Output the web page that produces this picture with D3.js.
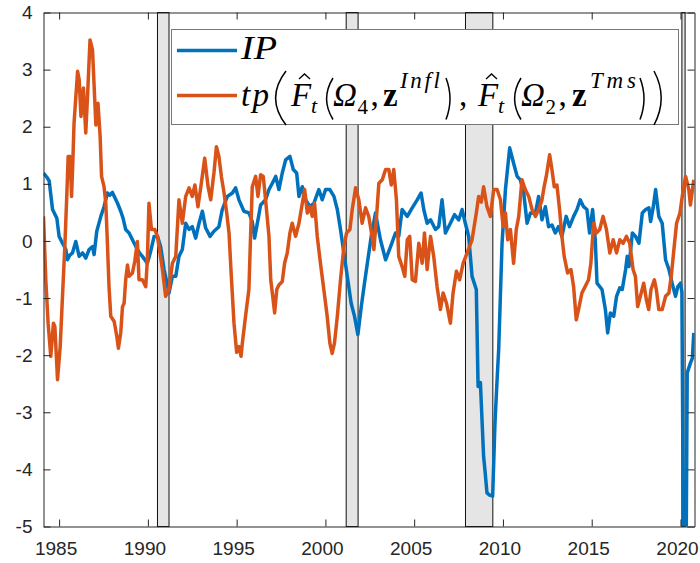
<!DOCTYPE html>
<html>
<head>
<meta charset="utf-8">
<script src="https://cdn.jsdelivr.net/npm/d3@7"></script>
<style>
  body { margin: 0; background: #fff; }
  svg { display: block; }
</style>
</head>
<body>
<svg width="700" height="563"></svg>
<script>
// IP series, [decimal year, value]
const ipSeries = [
  [1984.12, 1.19], [1984.30, 1.12], [1984.44, 1.05], [1984.63, 0.55], [1984.87, 0.40],
  [1985.00, 0.08], [1985.19, -0.04], [1985.38, -0.15], [1985.47, -0.33], [1985.60, -0.25],
  [1985.75, -0.21], [1985.94, -0.01], [1986.13, -0.27], [1986.32, -0.21], [1986.50, -0.30],
  [1986.69, -0.15], [1986.88, -0.10], [1986.97, -0.24], [1987.12, 0.17], [1987.35, 0.43],
  [1987.53, 0.60], [1987.72, 0.84], [1987.85, 0.80], [1988.00, 0.85], [1988.15, 0.75],
  [1988.29, 0.66], [1988.47, 0.52], [1988.60, 0.40], [1988.75, 0.20], [1988.94, 0.14],
  [1989.13, 0.02], [1989.41, -0.15], [1989.55, -0.22], [1989.69, -0.27], [1989.97, -0.39],
  [1990.16, -0.18], [1990.35, 0.08], [1990.54, 0.08], [1990.72, -0.10], [1990.91, -0.50],
  [1991.05, -0.70], [1991.19, -0.91], [1991.38, -0.62], [1991.57, -0.62], [1991.75, -0.27],
  [1991.94, -0.15], [1992.13, 0.31], [1992.32, 0.20], [1992.50, 0.25], [1992.69, 0.05],
  [1992.88, 0.31], [1993.07, 0.52], [1993.25, 0.23], [1993.50, 0.08], [1993.72, 0.17],
  [1994.00, 0.25], [1994.19, 0.55], [1994.48, 0.78], [1994.76, 0.84], [1994.94, 0.93],
  [1995.13, 0.72], [1995.41, 0.52], [1995.69, 0.49], [1995.88, 0.34], [1996.01, 0.05],
  [1996.20, 0.37], [1996.35, 0.63], [1996.63, 0.72], [1996.82, 0.90], [1997.01, 1.01],
  [1997.20, 1.13], [1997.38, 0.90], [1997.57, 1.19], [1997.76, 1.42], [1998.00, 1.48],
  [1998.19, 1.25], [1998.38, 1.19], [1998.51, 0.78], [1998.70, 0.95], [1998.89, 0.72],
  [1999.13, 0.60], [1999.35, 0.66], [1999.63, 0.90], [1999.82, 0.72], [2000.01, 0.90],
  [2000.25, 0.90], [2000.48, 0.78], [2000.67, 0.55], [2000.85, 0.20], [2001.04, -0.21],
  [2001.26, -0.68], [2001.45, -1.09], [2001.64, -1.32], [2001.83, -1.64], [2002.02, -1.15],
  [2002.20, -0.74], [2002.39, -0.33], [2002.58, 0.08], [2002.82, 0.49], [2003.10, 0.02],
  [2003.39, -0.33], [2003.67, -0.10], [2003.95, 0.14], [2004.13, 0.08], [2004.32, 0.55],
  [2004.61, 0.43], [2004.89, 0.58], [2005.17, 0.72], [2005.39, 0.84], [2005.54, 0.55],
  [2005.73, 0.31], [2005.92, 0.37], [2006.20, 0.20], [2006.38, 0.25], [2006.57, 0.72],
  [2006.76, 0.14], [2007.04, 0.31], [2007.27, 0.46], [2007.51, 0.37], [2007.70, 0.55],
  [2007.88, 0.31], [2008.07, 0.08], [2008.26, -0.62], [2008.50, -0.85], [2008.60, -2.55],
  [2008.73, -2.48], [2008.91, -3.77], [2009.00, -4.06], [2009.10, -4.41], [2009.25, -4.45],
  [2009.42, -4.47], [2009.55, -3.20], [2009.67, -2.43], [2009.76, -1.90], [2009.95, -0.04],
  [2010.14, 0.90], [2010.38, 1.63], [2010.60, 1.36], [2010.80, 1.13], [2010.98, 1.07],
  [2011.17, 0.84], [2011.36, 0.31], [2011.55, 0.49], [2011.83, 0.49], [2012.01, 0.78],
  [2012.20, 0.37], [2012.39, 0.60], [2012.57, 0.25], [2012.76, 0.28], [2012.95, 0.14],
  [2013.13, 0.25], [2013.32, 0.08], [2013.56, 0.43], [2013.75, 0.25], [2013.98, 0.43],
  [2014.17, 0.55], [2014.35, 0.72], [2014.54, 0.60], [2014.73, 0.55], [2014.88, 0.14],
  [2015.05, 0.55], [2015.20, 0.02], [2015.30, -0.74], [2015.58, -0.85], [2015.77, -1.20],
  [2015.90, -1.61], [2016.05, -1.26], [2016.24, -1.32], [2016.40, -0.97], [2016.58, -0.82],
  [2016.72, -0.85], [2016.91, -0.50], [2017.00, -0.27], [2017.10, -0.45], [2017.29, 0.14],
  [2017.47, 0.08], [2017.66, -0.04], [2017.85, 0.49], [2018.04, 0.55], [2018.22, 0.58],
  [2018.32, 0.34], [2018.47, 0.60], [2018.60, 0.90], [2018.78, 0.43], [2018.97, 0.31],
  [2019.16, -0.33], [2019.35, -0.50], [2019.53, -0.74], [2019.72, -0.97], [2019.85, -0.80],
  [2020.00, -0.74], [2020.08, -0.90], [2020.17, -5.50], [2020.25, -9.00], [2020.38, -2.31],
  [2020.56, -2.14], [2020.67, -2.05], [2020.75, -1.61]
];

// term premium series, [decimal year, value]
const tpSeries = [
  [1984.12, 0.43], [1984.25, -0.68], [1984.38, -1.44], [1984.53, -2.02], [1984.68, -1.44],
  [1984.76, -1.50], [1984.91, -2.43], [1985.06, -1.85], [1985.19, -0.97], [1985.32, -0.10],
  [1985.43, 0.78], [1985.51, 1.48], [1985.62, 1.48], [1985.70, 0.78], [1985.77, 1.36],
  [1985.84, 2.06], [1986.04, 2.97], [1986.13, 2.82], [1986.23, 2.18], [1986.37, 2.68],
  [1986.50, 1.89], [1986.60, 2.53], [1986.74, 3.52], [1986.88, 3.35], [1987.07, 2.03],
  [1987.19, 2.41], [1987.31, 1.83], [1987.39, 1.13], [1987.53, 0.95], [1987.63, 0.66],
  [1987.72, -0.04], [1987.81, -0.80], [1987.91, -1.32], [1988.10, -1.41], [1988.25, -1.67],
  [1988.34, -1.88], [1988.47, -1.61], [1988.57, -1.15], [1988.66, -1.09], [1988.75, -0.68],
  [1988.85, -0.42], [1988.94, -0.62], [1989.13, -0.56], [1989.26, -0.36], [1989.41, -0.01],
  [1989.50, -0.68], [1989.69, -0.68], [1989.88, -0.80], [1989.97, -0.33], [1990.06, 0.66],
  [1990.20, 0.20], [1990.39, 0.20], [1990.54, 0.08], [1990.82, -0.50], [1991.00, -0.97],
  [1991.19, -0.85], [1991.38, -0.39], [1991.57, -0.27], [1991.75, 0.72], [1991.94, 0.31],
  [1992.13, 0.78], [1992.32, 0.93], [1992.50, 0.78], [1992.65, 0.98], [1992.82, 0.60],
  [1993.01, 1.01], [1993.20, 1.45], [1993.39, 0.95], [1993.54, 0.72], [1993.72, 1.19],
  [1993.86, 1.65], [1994.00, 1.48], [1994.14, 1.13], [1994.29, 0.84], [1994.44, 0.49],
  [1994.57, 0.14], [1994.70, -0.62], [1994.85, -1.44], [1995.00, -1.95], [1995.13, -1.85],
  [1995.25, -2.02], [1995.32, -1.79], [1995.50, -1.32], [1995.69, -0.85], [1995.79, 0.14],
  [1995.88, 0.95], [1996.07, 1.13], [1996.20, 0.78], [1996.35, 1.16], [1996.50, 1.13],
  [1996.63, 0.72], [1996.82, 0.08], [1996.92, -0.68], [1997.01, -0.91], [1997.14, -1.26],
  [1997.26, -0.85], [1997.38, -0.77], [1997.57, -0.71], [1997.70, -0.39], [1997.85, -0.21],
  [1998.00, 0.14], [1998.13, 0.31], [1998.32, 0.08], [1998.51, 0.31], [1998.70, 0.66],
  [1998.83, 0.90], [1998.98, 0.49], [1999.13, 0.60], [1999.26, 0.43], [1999.39, 0.66],
  [1999.54, 0.08], [1999.72, -0.39], [1999.91, -0.85], [2000.10, -1.32], [2000.25, -1.79],
  [2000.38, -1.97], [2000.51, -1.79], [2000.67, -1.32], [2000.85, -0.68], [2001.04, -0.10],
  [2001.19, 0.14], [2001.38, 0.20], [2001.51, 0.55], [2001.70, 0.93], [2001.88, 0.72],
  [2002.07, 0.31], [2002.26, 0.58], [2002.44, 0.43], [2002.63, 0.08], [2002.73, -0.15],
  [2002.88, 0.43], [2003.01, 1.01], [2003.20, 1.07], [2003.39, 1.25], [2003.57, 1.25],
  [2003.71, 0.98], [2003.85, 1.25], [2004.00, 0.72], [2004.13, -0.27], [2004.32, -0.45],
  [2004.47, -0.62], [2004.61, 0.02], [2004.75, 0.08], [2004.89, -0.68], [2005.07, -0.71],
  [2005.26, -0.04], [2005.45, -0.39], [2005.58, 0.14], [2005.73, -0.50], [2005.92, 0.08],
  [2006.10, -0.27], [2006.29, -0.80], [2006.48, -1.20], [2006.63, -0.91], [2006.82, -1.09],
  [2007.04, -1.44], [2007.19, -0.91], [2007.38, -0.53], [2007.56, -0.68], [2007.76, -0.39],
  [2007.98, -0.21], [2008.26, 0.02], [2008.50, 0.49], [2008.63, 0.78], [2008.78, 0.68],
  [2008.91, 0.95], [2009.10, 0.60], [2009.29, 0.43], [2009.48, 0.90], [2009.67, 0.90],
  [2009.86, 0.72], [2010.01, 0.25], [2010.14, 0.49], [2010.27, 0.02], [2010.42, 0.20],
  [2010.60, -0.39], [2010.75, 0.20], [2010.89, 0.43], [2011.07, 1.07], [2011.26, 0.90],
  [2011.45, 0.78], [2011.64, 0.55], [2011.83, 0.43], [2012.01, 0.55], [2012.20, 0.72],
  [2012.32, 0.95], [2012.44, 1.13], [2012.63, 1.51], [2012.76, 1.25], [2012.89, 0.95],
  [2013.04, 0.98], [2013.19, 0.55], [2013.32, 0.08], [2013.45, -0.27], [2013.64, -0.56],
  [2013.83, -0.50], [2013.98, -0.80], [2014.13, -1.38], [2014.26, -1.20], [2014.45, -0.91],
  [2014.63, -0.80], [2014.82, -0.68], [2014.95, -0.40], [2015.11, 0.31], [2015.26, 0.14],
  [2015.45, 0.20], [2015.64, 0.43], [2015.83, 0.20], [2016.02, -0.21], [2016.21, 0.02],
  [2016.40, -0.21], [2016.58, 0.02], [2016.77, -0.04], [2016.96, 0.08], [2017.14, -0.04],
  [2017.33, -0.50], [2017.46, -0.62], [2017.59, -1.15], [2017.74, -0.97], [2017.93, -0.74],
  [2018.08, -1.03], [2018.21, -1.20], [2018.34, -0.85], [2018.53, -0.68], [2018.64, -0.85],
  [2018.78, -1.20], [2018.97, -1.20], [2019.16, -0.97], [2019.35, -0.91], [2019.48, -0.62],
  [2019.63, -0.15], [2019.78, 0.31], [2019.97, 0.49], [2020.10, 0.78], [2020.29, 1.13],
  [2020.47, 0.90], [2020.56, 0.63], [2020.75, 1.07]
];

// NBER recessions [start, end]
const recessions = [[1990.54, 1991.19], [2001.17, 2001.84], [2007.89, 2009.43], [2020.08, 2020.26]];

const xTicks = [1985, 1990, 1995, 2000, 2005, 2010, 2015, 2020];
const yTicks = [-5, -4, -3, -2, -1, 0, 1, 2, 3, 4];

const svg = d3.select("svg");

const x = d3.scaleLinear().domain([1984.12, 2020.79]).range([43.5, 694.5]);
const y = d3.scaleLinear().domain([-5, 4]).range([526.5, 12.5]);

const axisColor = "#262626";
const blue = "#0072BD";
const orange = "#D95319";

svg.append("defs").append("clipPath").attr("id", "plot")
  .append("rect")
  .attr("x", x.range()[0]).attr("y", y.range()[1])
  .attr("width", x.range()[1] - x.range()[0])
  .attr("height", y.range()[0] - y.range()[1]);

// recession shading
svg.append("g").selectAll("rect")
  .data(recessions)
  .join("rect")
  .attr("x", d => x(d[0]))
  .attr("y", y(4))
  .attr("width", d => x(d[1]) - x(d[0]))
  .attr("height", y(-5) - y(4))
  .attr("fill", "#e5e5e5")
  .attr("stroke", "#111")
  .attr("stroke-width", 1);

// series
const line = d3.line().x(d => x(d[0])).y(d => y(d[1]));
const lines = svg.append("g").attr("clip-path", "url(#plot)");
lines.append("path").datum(ipSeries)
  .attr("d", line).attr("fill", "none")
  .attr("stroke", blue).attr("stroke-width", 3.5).attr("stroke-linejoin", "round");
lines.append("path").datum(tpSeries)
  .attr("d", line).attr("fill", "none")
  .attr("stroke", orange).attr("stroke-width", 3.5).attr("stroke-linejoin", "round");

// axes (MATLAB box, ticks inward)
function styleAxis(g) {
  g.selectAll(".domain").attr("stroke", axisColor);
  g.selectAll(".tick line").attr("stroke", axisColor);
  g.selectAll(".tick text")
    .attr("fill", axisColor)
    .style("font-family", "'Liberation Sans', Arial, sans-serif")
    .style("font-size", "19px");
}
const fmt = d => String(d);

svg.append("g").attr("transform", `translate(0,${y(-5)})`)
  .call(d3.axisBottom(x).tickValues(xTicks).tickFormat(fmt).tickSizeInner(-7).tickSizeOuter(0).tickPadding(15))
  .call(styleAxis)
  .call(g => g.selectAll(".tick text").attr("dx", -3.5));
svg.append("g").attr("transform", `translate(0,${y(4)})`)
  .call(d3.axisTop(x).tickValues(xTicks).tickFormat("").tickSizeInner(-7).tickSizeOuter(0))
  .call(styleAxis);
svg.append("g").attr("transform", `translate(${x.range()[0]},0)`)
  .call(d3.axisLeft(y).tickValues(yTicks).tickFormat(fmt).tickSizeInner(-7).tickSizeOuter(0).tickPadding(11))
  .call(styleAxis);
svg.append("g").attr("transform", `translate(${x.range()[1]},0)`)
  .call(d3.axisRight(y).tickValues(yTicks).tickFormat("").tickSizeInner(-7).tickSizeOuter(0))
  .call(styleAxis);

// legend
const lg = svg.append("g");
lg.append("rect")
  .attr("x", 171.5).attr("y", 29.5).attr("width", 507).attr("height", 95)
  .attr("fill", "#fff").attr("stroke", "#777").attr("stroke-width", 1);
lg.append("line").attr("x1", 177).attr("x2", 237).attr("y1", 50.5).attr("y2", 50.5)
  .attr("stroke", blue).attr("stroke-width", 3.5);
lg.append("line").attr("x1", 177).attr("x2", 237).attr("y1", 95.5).attr("y2", 95.5)
  .attr("stroke", orange).attr("stroke-width", 3.5);

const serif = "'Liberation Serif', 'Times New Roman', serif";
function tex(str, px, py, size, opts = {}) {
  const t = lg.append("text")
    .attr("x", px).attr("y", py)
    .style("font-family", serif)
    .style("font-size", size + "px")
    .style("font-style", opts.italic ? "italic" : "normal")
    .style("font-weight", opts.bold ? "bold" : "normal")
    .attr("fill", "#000")
    .text(str);
  if (opts.len) t.attr("textLength", opts.len).attr("lengthAdjust", opts.adjust || "spacing");
  return t;
}
function paren(px, top, bottom, open, w) {
  const mid = (top + bottom) / 2;
  const edge = open ? px + w : px;
  const bulge = open ? px - w * 0.6 : px + w * 1.6;
  lg.append("path")
    .attr("d", `M${edge},${top} Q${bulge},${mid} ${edge},${bottom}`)
    .attr("fill", "none").attr("stroke", "#000").attr("stroke-width", 1.5);
}
function hat(px, py) {
  lg.append("path")
    .attr("d", `M${px},${py + 5} L${px + 5.5},${py} L${px + 11},${py + 5}`)
    .attr("fill", "none").attr("stroke", "#000").attr("stroke-width", 1.3);
}

tex("IP", 241, 59, 33, { italic: true, len: 36, adjust: "spacingAndGlyphs" });

const base = 106;
tex("tp", 241, base, 33, { italic: true, len: 28 });
paren(273, 71, 125, true, 13);
// first F_t(Omega_4, z^Infl)
tex("F", 291, base, 33, { italic: true });
hat(299, 74);
tex("t", 311, 113, 22, { italic: true });
paren(325, 78, 119.5, true, 8);
tex("Ω", 333, base, 33, { italic: true });
tex("4", 357.5, 113.5, 21);
tex(",", 370.5, base, 33);
tex("z", 383, base, 33, { bold: true });
tex("Infl", 400, 88, 23, { italic: true, len: 40 });
paren(446, 78, 119.5, false, 5);
tex(",", 459, base, 33);
// second F_t(Omega_2, z^Tms)
tex("F", 478, base, 33, { italic: true });
hat(486, 74);
tex("t", 498, 113, 22, { italic: true });
paren(513, 78, 119.5, true, 8);
tex("Ω", 521, base, 33, { italic: true });
tex("2", 545.5, 113.5, 21);
tex(",", 558.5, base, 33);
tex("z", 572, base, 33, { bold: true });
tex("Tms", 590, 88, 23, { italic: true, len: 46 });
paren(640, 78, 119.5, false, 5);
paren(654, 71, 125, false, 9);
</script>
</body>
</html>
